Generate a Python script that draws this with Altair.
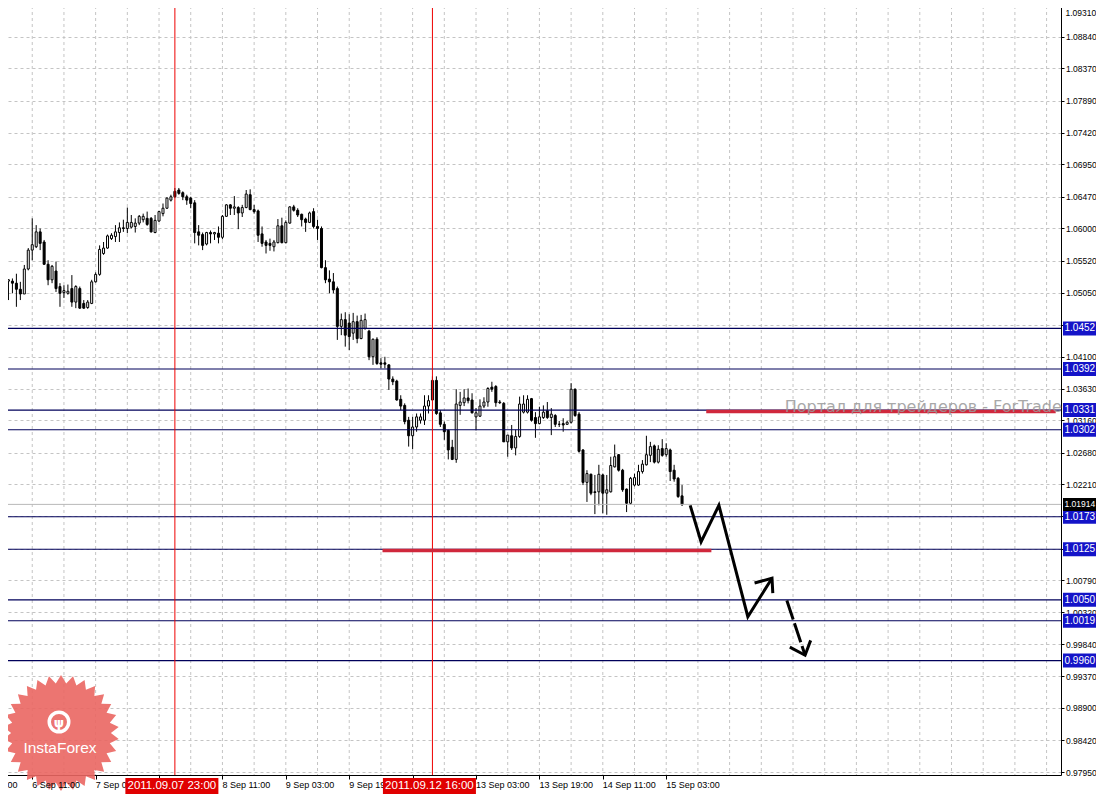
import math
import altair as alt
import pandas as pd

# ---------------- data ----------------
bar_index = list(range(171))
opens = [1.0522,1.0522,1.0519,1.0510,1.0503,1.0540,1.0568,1.0573,1.0595,1.0580,
1.0547,1.0524,1.0537,1.0514,1.0505,1.0504,1.0511,1.0491,1.0511,1.0489,
1.0483,1.0489,1.0521,1.0532,1.0563,1.0571,1.0585,1.0588,1.0594,1.0601,
1.0600,1.0602,1.0603,1.0608,1.0613,1.0615,1.0615,1.0594,1.0611,1.0622,
1.0630,1.0642,1.0655,1.0657,1.0653,1.0647,1.0645,1.0638,1.0595,1.0591,
1.0577,1.0594,1.0592,1.0593,1.0587,1.0618,1.0635,1.0630,1.0631,1.0623,
1.0631,1.0650,1.0628,1.0626,1.0592,1.0580,1.0578,1.0573,1.0579,1.0604,
1.0579,1.0608,1.0632,1.0627,1.0621,1.0614,1.0609,1.0625,1.0603,1.0600,
1.0542,1.0525,1.0521,1.0511,1.0455,1.0465,1.0460,1.0445,1.0462,1.0437,
1.0452,1.0448,1.0410,1.0436,1.0401,1.0401,1.0398,1.0377,1.0374,1.0347,
1.0338,1.0316,1.0293,1.0306,1.0316,1.0316,1.0337,1.0346,1.0375,1.0327,
1.0310,1.0301,1.0276,1.0258,1.0338,1.0342,1.0349,1.0346,1.0321,1.0322,
1.0337,1.0343,1.0365,1.0366,1.0343,1.0341,1.0284,1.0293,1.0275,1.0292,
1.0328,1.0328,1.0348,1.0320,1.0311,1.0320,1.0330,1.0320,1.0323,1.0310,
1.0311,1.0310,1.0313,1.0362,1.0325,1.0272,1.0224,1.0236,1.0210,1.0210,
1.0235,1.0208,1.0210,1.0247,1.0265,1.0242,1.0214,1.0193,1.0220,1.0220,
1.0240,1.0250,1.0264,1.0278,1.0254,1.0274,1.0265,1.0272,1.0242,1.0230,
1.0204]
highs = [1.0525,1.0526,1.0533,1.0521,1.0546,1.0571,1.0615,1.0605,1.0600,1.0583,
1.0553,1.0546,1.0551,1.0519,1.0516,1.0517,1.0531,1.0516,1.0514,1.0494,
1.0494,1.0524,1.0535,1.0575,1.0580,1.0591,1.0593,1.0605,1.0609,1.0613,
1.0631,1.0620,1.0615,1.0620,1.0622,1.0625,1.0617,1.0620,1.0626,1.0637,
1.0646,1.0650,1.0660,1.0660,1.0655,1.0650,1.0647,1.0642,1.0605,1.0594,
1.0595,1.0597,1.0595,1.0603,1.0620,1.0636,1.0636,1.0648,1.0633,1.0635,
1.0657,1.0658,1.0635,1.0628,1.0603,1.0583,1.0585,1.0583,1.0614,1.0616,
1.0612,1.0633,1.0635,1.0630,1.0622,1.0616,1.0625,1.0630,1.0613,1.0603,
1.0553,1.0538,1.0534,1.0514,1.0474,1.0476,1.0473,1.0475,1.0471,1.0472,
1.0474,1.0450,1.0437,1.0439,1.0408,1.0410,1.0399,1.0381,1.0376,1.0353,
1.0341,1.0321,1.0321,1.0326,1.0326,1.0353,1.0353,1.0381,1.0381,1.0331,
1.0314,1.0302,1.0287,1.0362,1.0358,1.0362,1.0363,1.0356,1.0334,1.0347,
1.0350,1.0365,1.0373,1.0368,1.0346,1.0343,1.0294,1.0309,1.0302,1.0351,
1.0353,1.0353,1.0349,1.0328,1.0336,1.0338,1.0343,1.0334,1.0325,1.0315,
1.0319,1.0315,1.0371,1.0363,1.0328,1.0273,1.0242,1.0237,1.0235,1.0250,
1.0237,1.0235,1.0262,1.0280,1.0266,1.0244,1.0215,1.0232,1.0237,1.0250,
1.0257,1.0293,1.0284,1.0280,1.0279,1.0288,1.0282,1.0274,1.0250,1.0232,
1.0220]
lows = [1.0494,1.0504,1.0484,1.0494,1.0503,1.0538,1.0553,1.0571,1.0568,1.0546,
1.0516,1.0519,1.0506,1.0484,1.0497,1.0502,1.0484,1.0482,1.0481,1.0481,
1.0481,1.0488,1.0520,1.0530,1.0561,1.0570,1.0583,1.0580,1.0580,1.0595,
1.0593,1.0600,1.0594,1.0605,1.0609,1.0604,1.0594,1.0593,1.0610,1.0618,
1.0629,1.0640,1.0645,1.0650,1.0642,1.0635,1.0630,1.0578,1.0575,1.0568,
1.0575,1.0578,1.0583,1.0578,1.0584,1.0617,1.0620,1.0620,1.0599,1.0617,
1.0630,1.0627,1.0622,1.0580,1.0573,1.0563,1.0567,1.0566,1.0578,1.0578,
1.0578,1.0607,1.0625,1.0617,1.0603,1.0595,1.0608,1.0600,1.0583,1.0541,
1.0519,1.0504,1.0504,1.0435,1.0442,1.0425,1.0420,1.0435,1.0430,1.0436,
1.0450,1.0405,1.0398,1.0398,1.0393,1.0393,1.0361,1.0368,1.0345,1.0331,
1.0310,1.0277,1.0273,1.0299,1.0311,1.0309,1.0326,1.0345,1.0324,1.0306,
1.0287,1.0258,1.0257,1.0253,1.0324,1.0337,1.0341,1.0326,1.0301,1.0321,
1.0334,1.0336,1.0358,1.0336,1.0340,1.0284,1.0262,1.0272,1.0264,1.0290,
1.0326,1.0326,1.0314,1.0290,1.0310,1.0318,1.0318,1.0294,1.0306,1.0306,
1.0299,1.0309,1.0311,1.0321,1.0268,1.0220,1.0195,1.0205,1.0177,1.0190,
1.0178,1.0176,1.0209,1.0246,1.0240,1.0210,1.0180,1.0191,1.0218,1.0219,
1.0237,1.0249,1.0254,1.0252,1.0252,1.0262,1.0262,1.0226,1.0225,1.0201,
1.0189]
closes = [1.0524,1.0519,1.0510,1.0503,1.0540,1.0568,1.0576,1.0595,1.0578,1.0547,
1.0524,1.0544,1.0511,1.0504,1.0508,1.0507,1.0491,1.0514,1.0482,1.0482,
1.0491,1.0521,1.0532,1.0569,1.0571,1.0589,1.0590,1.0595,1.0601,1.0600,
1.0609,1.0609,1.0608,1.0618,1.0618,1.0606,1.0595,1.0612,1.0625,1.0630,
1.0645,1.0647,1.0647,1.0652,1.0647,1.0642,1.0637,1.0594,1.0590,1.0575,
1.0594,1.0592,1.0594,1.0587,1.0618,1.0635,1.0630,1.0632,1.0623,1.0631,
1.0651,1.0628,1.0625,1.0590,1.0578,1.0575,1.0575,1.0580,1.0604,1.0579,
1.0609,1.0632,1.0627,1.0620,1.0613,1.0609,1.0623,1.0603,1.0600,1.0542,
1.0524,1.0521,1.0509,1.0455,1.0465,1.0442,1.0440,1.0462,1.0437,1.0464,
1.0465,1.0410,1.0436,1.0400,1.0399,1.0399,1.0377,1.0373,1.0346,1.0337,
1.0314,1.0293,1.0306,1.0321,1.0321,1.0337,1.0345,1.0375,1.0326,1.0310,
1.0299,1.0272,1.0258,1.0340,1.0343,1.0349,1.0345,1.0327,1.0327,1.0337,
1.0343,1.0363,1.0362,1.0342,1.0342,1.0284,1.0294,1.0275,1.0292,1.0340,
1.0340,1.0347,1.0316,1.0311,1.0321,1.0328,1.0320,1.0325,1.0310,1.0310,
1.0309,1.0313,1.0362,1.0323,1.0270,1.0224,1.0237,1.0208,1.0209,1.0236,
1.0208,1.0213,1.0249,1.0262,1.0242,1.0213,1.0193,1.0230,1.0231,1.0240,
1.0251,1.0265,1.0277,1.0254,1.0273,1.0264,1.0274,1.0240,1.0229,1.0203,
1.0191]

ytick_values = [1.0931, 1.0884, 1.0837, 1.0789, 1.0742, 1.0695, 1.0647, 1.0600,
                1.0552, 1.0505, 1.0457, 1.0410, 1.0363, 1.0316, 1.0268, 1.0221,
                1.0174, 1.0126, 1.0079, 1.0032, 0.9984, 0.9937, 0.9890, 0.9842, 0.9795]
ytick_hidden = [1.0931, 1.0457, 1.0174, 1.0126]   # drawn separately / fully covered by boxes
top_label = ["1.09310"]

xgrid_bars = list(range(6, 263, 8))
xtick_bars = [6, 22, 38, 54, 70, 86, 102, 118, 134, 150, 166]
xlabel_bars = [-10, 6, 22, 54, 70, 86, 118, 134, 150, 166]
xlabel_text = ["5 Sep 19:00", "6 Sep 11:00", "7 Sep 03:00", "8 Sep 11:00",
               "9 Sep 03:00", "9 Sep 19:00", "13 Sep 03:00",
               "13 Sep 19:00", "14 Sep 11:00", "15 Sep 03:00"]

level_prices = [1.0452, 1.0392, 1.0331, 1.0302, 1.0173, 1.0125, 1.0050, 1.0019, 0.9960]
level_labels = ["1.0452", "1.0392", "1.0331", "1.0302", "1.0173", "1.0125", "1.0050", "1.0019", "0.9960"]
bid_price = [1.01914]
bid_label = ["1.01914"]

vline_bars = [42, 107]
vline_labels = ["2011.09.07 23:00", "2011.09.12 16:00"]

red_seg_price = [1.0329, 1.0123]
red_seg_start = [176.1, 94.4]
red_seg_end = [264.3, 177.4]

watermark_text = ["Портал для трейдеров - ForTrader.org"]
watermark_bar = [195.9]
watermark_price = [1.0336]

zig_bar = [172.05, 174.8, 179.3, 186.6, 192.7]
zig_price = [1.0190, 1.0136, 1.0190, 1.0025, 1.0082]
zig_head_bar = [188.3, 192.7, 192.9]
zig_head_price = [1.0075, 1.0082, 1.0060]
dash_bar = [196.45, 201.05]
dash_price = [1.0049, 0.9968]
dash_head_bar = [197.2, 201.05, 202.45]
dash_head_price = [0.9980, 0.9968, 0.9990]

logo_text = ["InstaForex"]

# ---------------- chart ----------------
W, H = 1061, 775
FONT = "Liberation Sans"
xscale = alt.Scale(domain=[-0.875, 264.375], nice=False, zero=False)
yscale = alt.Scale(domain=[0.97906, 1.09384], nice=False, zero=False)

hidden_expr = " || ".join(f"abs(datum.value - {v}) < 1e-7" for v in ytick_hidden)
yaxis = alt.Axis(orient="right", values=ytick_values, title=None,
                 labelExpr=f"({hidden_expr}) ? '' : format(datum.value, '.5f')",
                 grid=True, gridColor="#c4c4c4", gridDash=[3, 3], gridWidth=1,
                 domainColor="black", domainWidth=1, tickColor="black", tickSize=3,
                 labelPadding=1.5, labelFont=FONT, labelFontSize=8.5, labelColor="black",
                 labelOverlap=False, labelFlush=False, labelBound=False)
xaxis = alt.Axis(orient="bottom", values=xtick_bars, labels=False, title=None,
                 grid=False, domainColor="black", domainWidth=1, tickColor="black",
                 tickSize=4)


def X(field):
    return alt.X(field, type="quantitative", scale=xscale, axis=xaxis)


def Y(field):
    return alt.Y(field, type="quantitative", scale=yscale, axis=yaxis)


candles = pd.DataFrame({"bar": bar_index, "open": opens, "high": highs,
                        "low": lows, "close": closes})

grid_df = pd.DataFrame({"bar": xgrid_bars})
grid = alt.Chart(grid_df).mark_rule(color="#c4c4c4", strokeDash=[3, 3], strokeWidth=1).encode(
    x=X("bar"))

wicks = alt.Chart(candles).mark_rule(color="black", strokeWidth=1).encode(
    x=X("bar"), y=Y("low"), y2="high")

bodies = alt.Chart(candles).mark_bar(size=2, stroke="black", strokeWidth=1).encode(
    x=X("bar"), y=Y("open"), y2="close",
    fill=alt.condition("datum.close >= datum.open", alt.value("white"), alt.value("black")))

levels_df = pd.DataFrame({"price": level_prices, "label": level_labels})
bid_df = pd.DataFrame({"price": bid_price, "label": bid_label})

bid_line = alt.Chart(bid_df).mark_rule(color="#b8b8b8", strokeWidth=1).encode(y=Y("price"))
lvl_lines = alt.Chart(levels_df).mark_rule(color="#00005a", strokeWidth=1.1).encode(y=Y("price"))

vdf = pd.DataFrame({"bar": vline_bars, "label": vline_labels})
vlines = alt.Chart(vdf).mark_rule(color="#ee0000", strokeWidth=1).encode(x=X("bar"))

seg_df = pd.DataFrame({"price": red_seg_price, "x1": red_seg_start, "x2": red_seg_end})
red_segs = alt.Chart(seg_df).mark_rule(color="#d0283c", strokeWidth=3.5).encode(
    x=X("x1"), x2="x2", y=Y("price"))

wm_df = pd.DataFrame({"bar": watermark_bar, "price": watermark_price, "t": watermark_text})
watermark = alt.Chart(wm_df).mark_text(align="left", baseline="middle", font="DejaVu Sans",
                                        fontSize=16, color="#9a9a9a", opacity=0.85).encode(
    x=X("bar"), y=Y("price"), text="t:N")

zig_rows = []
for i, (b, p) in enumerate(zip(zig_bar, zig_price)):
    zig_rows.append({"seg": "a", "ord": i, "bar": b, "price": p})
for i, (b, p) in enumerate(zip(zig_head_bar, zig_head_price)):
    zig_rows.append({"seg": "b", "ord": i, "bar": b, "price": p})
for i, (b, p) in enumerate(zip(dash_head_bar, dash_head_price)):
    zig_rows.append({"seg": "c", "ord": i, "bar": b, "price": p})
zig_df = pd.DataFrame(zig_rows)
arrows = alt.Chart(zig_df).mark_line(color="black", strokeWidth=3, strokeJoin="miter").encode(
    x=X("bar"), y=Y("price"), detail="seg:N", order="ord:Q")

dash_df = pd.DataFrame({"bar": dash_bar, "price": dash_price, "ord": [0, 1]})
dashed = alt.Chart(dash_df).mark_line(color="black", strokeWidth=3, strokeDash=[20, 4]).encode(
    x=X("bar"), y=Y("price"), order="ord:Q")

# logo (starburst drawn as a custom symbol)
n_spikes = 30
pts = []
for i in range(2 * n_spikes):
    a = math.pi * i / n_spikes
    r = 1.0 if i % 2 == 0 else 0.86
    pts.append(f"{r * math.sin(a):.4f},{-r * math.cos(a):.4f}")
star_path = "M" + " L".join(pts) + " Z"

logo_df = pd.DataFrame({"t": logo_text})
logo = alt.Chart(logo_df).mark_point(shape=star_path, size=116 * 116, filled=True,
                                     fill="#ea6662", opacity=0.9, strokeWidth=0).encode(
    x=alt.value(61), y=alt.value(733))
logo_ring = alt.Chart(logo_df).mark_point(shape="circle", size=380, filled=False,
                                          stroke="white", strokeWidth=3.5, opacity=1).encode(
    x=alt.value(59), y=alt.value(722))
logo_icon = alt.Chart(logo_df).mark_text(text="ψ", font="DejaVu Sans", fontSize=13,
                                         fontWeight="bold", color="white").encode(
    x=alt.value(59), y=alt.value(723))
logo_txt = alt.Chart(logo_df).mark_text(font=FONT, fontSize=15.5, color="white",
                                        baseline="middle").encode(
    x=alt.value(60), y=alt.value(748), text="t:N")

xl_df = pd.DataFrame({"bar": xlabel_bars, "t": xlabel_text})
xlabels = alt.Chart(xl_df).mark_text(align="left", baseline="top", font=FONT, fontSize=9,
                                     color="black").encode(
    x=X("bar"), y=alt.value(H + 6), text="t:N")

top_df = pd.DataFrame({"t": top_label})
top_text = alt.Chart(top_df).mark_text(align="left", baseline="top", font=FONT, fontSize=8.5,
                                       color="black").encode(
    x=alt.value(W + 4.5), y=alt.value(8.5), text="t:N")

BX0, BX1 = 1063, 1096
box_rect = alt.Chart(levels_df).mark_rect(height=14, color="#1414c8").encode(
    x=alt.value(BX0), x2=alt.value(BX1), y=Y("price"))
box_text = alt.Chart(levels_df).mark_text(align="left", baseline="middle", font=FONT,
                                          fontSize=10, color="white").encode(
    x=alt.value(BX0 + 1.5), y=Y("price"), text="label:N")
bid_rect = alt.Chart(bid_df).mark_rect(height=13, color="black").encode(
    x=alt.value(BX0), x2=alt.value(BX1), y=Y("price"))
bid_text = alt.Chart(bid_df).mark_text(align="left", baseline="middle", font=FONT,
                                       fontSize=8.5, color="white").encode(
    x=alt.value(BX0 + 1.5), y=Y("price"), text="label:N")

date_rect = alt.Chart(vdf).mark_rect(width=93, color="#e00000", xOffset=-3).encode(
    x=X("bar"), y=alt.value(H + 3), y2=alt.value(H + 19))
date_text = alt.Chart(vdf).mark_text(align="center", baseline="middle", font=FONT,
                                     fontSize=11.5, color="white", dx=-3).encode(
    x=X("bar"), y=alt.value(H + 11), text="label:N")

chart = alt.layer(
    grid, wicks, bodies, bid_line, lvl_lines, vlines, red_segs, watermark,
    arrows, dashed, logo, logo_ring, logo_icon, logo_txt, xlabels, top_text,
    box_rect, box_text, bid_rect, bid_text, date_rect, date_text
).properties(
    width=W, height=H,
    padding={"left": -8, "top": -8, "right": 35, "bottom": 20},
    autosize=alt.AutoSizeParams(type="none"),
    background="white",
).configure_view(stroke=None)

chart.save("out.html", embed_options={"renderer": "svg", "actions": False})
